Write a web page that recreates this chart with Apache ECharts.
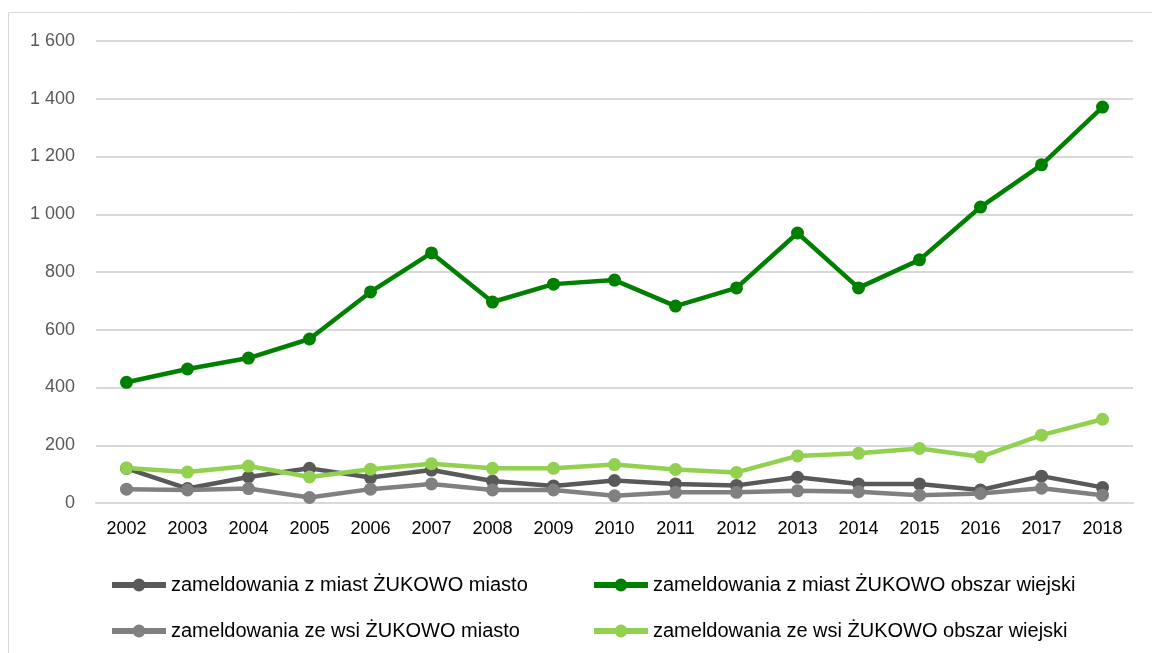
<!DOCTYPE html>
<html>
<head>
<meta charset="utf-8">
<script src="https://cdn.jsdelivr.net/npm/echarts@6/dist/echarts.min.js"></script>
<style>
  html, body { margin: 0; padding: 0; background: #fff; }
  #chart { width: 1152px; height: 653px; }
</style>
</head>
<body>
<div id="chart"></div>
<script>
var years = ['2002','2003','2004','2005','2006','2007','2008','2009','2010','2011','2012','2013','2014','2015','2016','2017','2018'];
var zMiastMiasto = [120, 50, 90, 120, 88, 114, 76, 59, 78, 66, 61, 89, 66, 66, 45, 93, 54];
var zMiastWies = [418, 464, 502, 568, 731, 866, 696, 758, 772, 682, 745, 935, 745, 842, 1025, 1171, 1371];
var zeWsiMiasto = [48, 45, 50, 19, 48, 66, 45, 45, 25, 37, 37, 42, 39, 27, 33, 51, 27];
var zeWsiWies = [121, 107, 128, 90, 117, 136, 120, 120, 133, 116, 106, 163, 172, 189, 160, 235, 290];

var names = [
  'zameldowania z miast ŻUKOWO miasto',
  'zameldowania z miast ŻUKOWO obszar wiejski',
  'zameldowania ze wsi ŻUKOWO miasto',
  'zameldowania ze wsi ŻUKOWO obszar wiejski'
];

var chart = echarts.init(document.getElementById('chart'));

function line(name, data, color) {
  return {
    name: name,
    type: 'line',
    data: data,
    symbol: 'circle',
    symbolSize: 13,
    lineStyle: { color: color, width: 4.5 },
    itemStyle: { color: color },
    emphasis: { disabled: true },
    animation: false
  };
}

var legendText = { fontFamily: 'Liberation Sans, Arial', fontSize: 20, color: '#000' };
var legendBase = {
  top: 570, orient: 'vertical', itemGap: 26,
  itemWidth: 54, itemHeight: 16,
  lineStyle: { width: 6 },
  textStyle: legendText
};

chart.setOption({
  animation: false,
  graphic: [{
    type: 'rect',
    shape: { x: 8.5, y: 12.5, width: 1200, height: 700 },
    style: { fill: 'none', stroke: '#d9d9d9', lineWidth: 1 },
    silent: true
  }],
  grid: { left: 96, right: 19, top: 41, bottom: 150, containLabel: false },
  legend: [
    Object.assign({ left: 104, data: [names[0], names[2]] }, legendBase),
    Object.assign({ left: 586, data: [names[1], names[3]] }, legendBase)
  ],
  xAxis: {
    type: 'category',
    data: years,
    boundaryGap: true,
    axisLine: { lineStyle: { color: '#d9d9d9', width: 2 } },
    axisTick: { show: false },
    axisLabel: { color: '#000', fontSize: 18, fontFamily: 'Liberation Sans, Arial', margin: 17 }
  },
  yAxis: {
    type: 'value',
    min: 0, max: 1600, interval: 200,
    axisLine: { show: false },
    axisTick: { show: false },
    splitLine: { lineStyle: { color: '#d9d9d9', width: 2 } },
    axisLabel: {
      color: '#595959', fontSize: 18, fontFamily: 'Liberation Sans, Arial', margin: 21,
      formatter: function (v) { return v >= 1000 ? Math.floor(v / 1000) + ' ' + String(v % 1000).padStart(3, '0') : String(v); }
    }
  },
  series: [
    line(names[0], zMiastMiasto, '#595959'),
    line(names[1], zMiastWies, '#008000'),
    line(names[2], zeWsiMiasto, '#808080'),
    line(names[3], zeWsiWies, '#92d050')
  ]
});
</script>
</body>
</html>
